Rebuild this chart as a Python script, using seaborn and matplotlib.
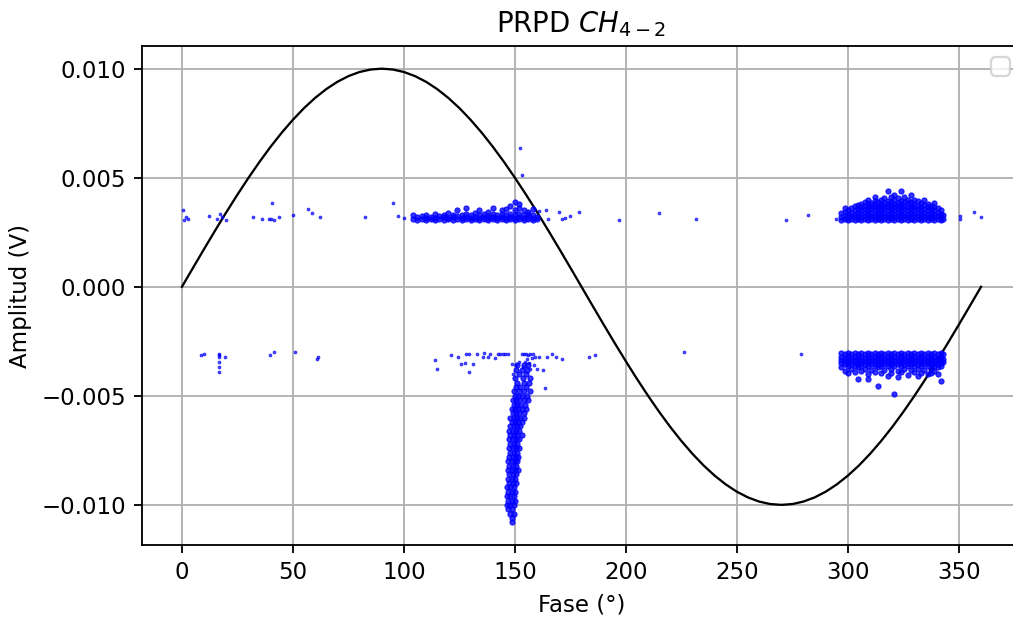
import numpy as np
import pandas as pd
import matplotlib
matplotlib.use("Agg")
import matplotlib.pyplot as plt
import seaborn as sns

DPI = 165

# --- Reference sine (amplitude in mV, read every 5 degrees) ---
SINE_PHASE = list(range(0, 365, 5))
SINE_MV = [
    0.0, 0.872, 1.736, 2.588, 3.420, 4.226, 5.000, 5.736, 6.428, 7.071,
    7.660, 8.192, 8.660, 9.063, 9.397, 9.659, 9.848, 9.962, 10.0, 9.962,
    9.848, 9.659, 9.397, 9.063, 8.660, 8.192, 7.660, 7.071, 6.428, 5.736,
    5.000, 4.226, 3.420, 2.588, 1.736, 0.872, 0.0, -0.872, -1.736, -2.588,
    -3.420, -4.226, -5.000, -5.736, -6.428, -7.071, -7.660, -8.192, -8.660, -9.063,
    -9.397, -9.659, -9.848, -9.962, -10.0, -9.962, -9.848, -9.659, -9.397, -9.063,
    -8.660, -8.192, -7.660, -7.071, -6.428, -5.736, -5.000, -4.226, -3.420, -2.588,
    -1.736, -0.872, 0.0,
]

# --- Isolated pulses (phase deg, amplitude mV) ---
SPARSE_PHASE = [
    0.5, 1, 2, 2.5, 12, 16, 17, 18, 20, 32, 36, 39, 40, 40.5, 41.5, 43.7, 50, 57,
    58.5, 62, 82.5, 95, 97.5, 100, 161, 164, 165, 170, 171, 172.5, 175, 179, 197,
    215, 231.5, 272, 282, 294.6, 350.5, 350.5, 357, 360, 152.3, 153.2,
    8.6, 10, 16.5, 16.5, 16.5, 16.5, 16.5, 16.5, 19.5, 39.5, 41.5, 51, 61, 61.5,
    183.5, 186, 226, 279,
    114, 115, 121, 124.5, 125.5, 127.5, 128, 129.5, 129.5, 131, 133, 135.5, 136,
    138, 139, 141, 142.5, 143.5, 144.5, 145.5, 147, 148.5, 149, 150.5, 152, 153,
    153.5, 154, 154.5, 155, 155.5, 156, 156.5, 157, 157, 157.5, 158, 158.5, 159,
    160, 161, 162.5, 163.5, 164.5, 166.5, 168.5, 171,
]
SPARSE_MV = [
    3.52, 3.05, 3.2, 3.12, 3.24, 3.1, 3.33, 3.2, 3.06, 3.2, 3.1, 3.1, 3.1, 3.84, 3.06, 3.2, 3.29, 3.56,
    3.38, 3.2, 3.2, 3.84, 3.24, 3.15, 3.47, 3.52, 3.1, 3.43, 3.1, 3.15, 3.24, 3.43, 3.06,
    3.38, 3.1, 3.06, 3.29, 3.1, 3.1, 3.25, 3.43, 3.2, 6.37, 5.13,
    -3.15, -3.06, -3.06, -3.15, -3.2, -3.47, -3.66, -3.93, -3.24, -3.15, -3.01, -3.01, -3.29, -3.2,
    -3.2, -3.15, -3.01, -3.06,
    -3.38, -3.75, -3.15, -3.2, -3.56, -3.5, -3.06, -3.1, -3.93, -3.56, -3.1, -3.2, -3.05,
    -3.24, -3.1, -3.28, -3.06, -3.06, -3.1, -3.06, -3.1, -3.56, -4.0, -3.6, -3.45, -3.06,
    -3.7, -3.1, -3.43, -3.06, -3.3, -3.15, -3.5, -3.06, -3.75, -3.25, -3.1, -3.6, -3.2,
    -3.75, -3.2, -3.8, -4.66, -3.2, -3.1, -3.2, -3.33,
]

# --- Positive half-cycle band near 100-160 deg (phase: amplitudes mV) ---
POS_BAND = {
    104: [3.1, 3.3], 106: [3.05, 3.2], 108: [3.1, 3.25], 110: [3.05, 3.15, 3.3],
    112: [3.1, 3.2], 114: [3.05, 3.15, 3.35], 116: [3.1, 3.25], 118: [3.05, 3.2, 3.3],
    120: [3.1, 3.15, 3.4], 122: [3.05, 3.2, 3.3], 124: [3.1, 3.25, 3.5],
    126: [3.05, 3.15, 3.3], 128: [3.1, 3.2, 3.35, 3.6], 130: [3.05, 3.15, 3.3],
    132: [3.1, 3.2, 3.4], 134: [3.05, 3.15, 3.3, 3.5], 136: [3.1, 3.2, 3.35],
    138: [3.05, 3.15, 3.25, 3.45], 140: [3.1, 3.2, 3.35, 3.6], 142: [3.05, 3.15, 3.3],
    144: [3.1, 3.2, 3.35, 3.5], 146: [3.05, 3.15, 3.3, 3.55], 148: [3.1, 3.2, 3.35, 3.7],
    150: [3.05, 3.15, 3.3, 3.5, 3.9], 152: [3.1, 3.2, 3.35, 3.6, 3.8],
    154: [3.05, 3.15, 3.3, 3.5], 156: [3.1, 3.2, 3.35, 3.45], 158: [3.05, 3.15, 3.3, 3.55],
    160: [3.1, 3.2],
}

# --- Positive dense cluster 297-343 deg ---
POS_CLUSTER = {
    297: [3.05, 3.2, 3.4], 298.5: [3.1, 3.25, 3.45, 3.6], 300: [3.05, 3.2, 3.35, 3.5],
    301.5: [3.1, 3.25, 3.4, 3.6], 303: [3.05, 3.2, 3.35, 3.5, 3.7],
    304.5: [3.1, 3.25, 3.4, 3.55, 3.75], 306: [3.05, 3.2, 3.35, 3.5, 3.65, 3.8],
    307.5: [3.1, 3.25, 3.4, 3.55, 3.7, 3.9], 309: [3.05, 3.2, 3.35, 3.5, 3.65, 3.8, 4.0],
    310.5: [3.1, 3.25, 3.4, 3.55, 3.7, 3.85], 312: [3.05, 3.2, 3.35, 3.5, 3.65, 3.8, 3.95, 4.1],
    313.5: [3.1, 3.25, 3.4, 3.55, 3.7, 3.9], 315: [3.05, 3.2, 3.35, 3.5, 3.65, 3.8, 4.0],
    316.5: [3.1, 3.25, 3.4, 3.55, 3.7, 3.85, 4.05],
    318: [3.05, 3.2, 3.35, 3.5, 3.65, 3.8, 3.95, 4.4],
    319.5: [3.1, 3.25, 3.4, 3.55, 3.7, 3.9, 4.1],
    321: [3.05, 3.2, 3.35, 3.5, 3.65, 3.8, 4.0, 4.2],
    322.5: [3.1, 3.25, 3.4, 3.55, 3.7, 3.85, 4.05],
    324: [3.05, 3.2, 3.35, 3.5, 3.65, 3.8, 3.95, 4.4],
    325.5: [3.1, 3.25, 3.4, 3.55, 3.7, 3.9, 4.1],
    327: [3.05, 3.2, 3.35, 3.5, 3.65, 3.85, 4.0],
    328.5: [3.1, 3.25, 3.4, 3.55, 3.7, 3.9, 4.2],
    330: [3.05, 3.2, 3.35, 3.5, 3.65, 3.8, 4.0], 331.5: [3.1, 3.25, 3.4, 3.55, 3.7, 3.95],
    333: [3.05, 3.2, 3.35, 3.5, 3.65, 3.85], 334.5: [3.1, 3.25, 3.4, 3.55, 3.75, 4.0],
    336: [3.05, 3.2, 3.35, 3.5, 3.65, 3.8], 337.5: [3.1, 3.25, 3.4, 3.55, 3.7],
    339: [3.05, 3.2, 3.35, 3.5, 3.65, 3.85], 340.5: [3.1, 3.25, 3.4, 3.6],
    342: [3.05, 3.2, 3.35, 3.5], 343: [3.1, 3.3],
}

# --- Negative dense cluster 297-343 deg ---
NEG_CLUSTER = {
    297: [-3.05, -3.2, -3.35, -3.5, -3.7], 298.5: [-3.1, -3.25, -3.4, -3.55, -3.85],
    300: [-3.05, -3.2, -3.35, -3.5, -3.65, -3.95], 301.5: [-3.1, -3.25, -3.4, -3.55, -3.75],
    303: [-3.05, -3.2, -3.35, -3.5, -3.65, -3.9],
    304.5: [-3.1, -3.25, -3.4, -3.55, -3.7, -4.25],
    306: [-3.05, -3.2, -3.35, -3.5, -3.65, -3.85], 307.5: [-3.1, -3.25, -3.4, -3.55, -3.75],
    309: [-3.05, -3.2, -3.35, -3.5, -3.65, -4.0, -4.25], 310.5: [-3.1, -3.25, -3.4, -3.55, -3.8],
    312: [-3.05, -3.2, -3.35, -3.5, -3.65, -3.9],
    313.5: [-3.1, -3.25, -3.4, -3.55, -3.7, -4.55],
    315: [-3.05, -3.2, -3.35, -3.5, -3.65, -3.95], 316.5: [-3.1, -3.25, -3.4, -3.55, -3.8],
    318: [-3.05, -3.2, -3.35, -3.5, -3.65, -4.1],
    319.5: [-3.1, -3.25, -3.4, -3.55, -3.75, -3.95],
    321: [-3.05, -3.2, -3.35, -3.5, -3.65, -4.9],
    322.5: [-3.1, -3.25, -3.4, -3.55, -3.85, -4.15],
    324: [-3.05, -3.2, -3.35, -3.5, -3.65, -3.9], 325.5: [-3.1, -3.25, -3.4, -3.55, -3.75],
    327: [-3.05, -3.2, -3.35, -3.5, -3.65, -4.05], 328.5: [-3.1, -3.25, -3.4, -3.55, -3.8],
    330: [-3.05, -3.2, -3.35, -3.5, -3.65, -3.9],
    331.5: [-3.1, -3.25, -3.4, -3.55, -3.75, -4.1],
    333: [-3.05, -3.2, -3.35, -3.5, -3.65, -3.95], 334.5: [-3.1, -3.25, -3.4, -3.55, -3.8],
    336: [-3.05, -3.2, -3.35, -3.5, -3.65, -4.0],
    337.5: [-3.1, -3.25, -3.4, -3.55, -3.75, -3.95],
    339: [-3.05, -3.2, -3.35, -3.5, -3.65, -3.85],
    340.5: [-3.1, -3.25, -3.4, -3.55, -3.7, -4.0],
    342: [-3.05, -3.2, -3.35, -3.5, -3.65, -4.3], 343: [-3.1, -3.3, -3.45],
}

# --- Negative streak near 150 deg (amplitude mV: phases) ---
NEG_STREAK = {
    -3.6: [151, 154, 156], -3.8: [150.5, 153, 155.5], -4.0: [152, 155],
    -4.2: [150, 153.5, 157], -4.4: [151, 154, 156.5], -4.6: [150.5, 152.5, 155],
    -4.8: [149.5, 152, 154, 157], -5.0: [150, 151.5, 153, 155.5],
    -5.2: [149, 150.5, 152, 154, 156], -5.4: [149.5, 151, 152.5, 154.5],
    -5.6: [148.5, 150, 151.5, 153, 155], -5.8: [149, 150.5, 152, 154],
    -6.0: [148, 149.5, 151, 152.5, 154], -6.2: [148.5, 150, 151.5, 153],
    -6.4: [148, 149.5, 151, 152.5], -6.6: [147.5, 149, 150.5, 152],
    -6.8: [148, 149.5, 151, 153], -7.0: [147.5, 149, 150.5, 152],
    -7.2: [148, 149.5, 151], -7.4: [147.5, 149, 150.5, 152], -7.6: [148, 149.5, 151],
    -7.8: [147.5, 149, 150.5, 151.5], -8.0: [147, 148.5, 150, 151],
    -8.2: [147.5, 149, 150.5], -8.4: [147, 148.5, 150, 151.5], -8.6: [147.5, 149, 150.5],
    -8.8: [147, 148.5, 150], -9.0: [147.5, 149, 150.5], -9.2: [146.5, 148, 149.5],
    -9.4: [147, 148.5, 150], -9.6: [146.5, 148, 149.5], -9.8: [147, 148.5, 150],
    -10.0: [146.5, 148, 149.5], -10.2: [147, 148.5], -10.4: [148, 149.5],
    -10.6: [148.5], -10.8: [148.5],
}


def columns_to_frame(cols):
    rows = [(ph, a) for ph, amps in cols.items() for a in amps]
    return pd.DataFrame(rows, columns=["fase", "mv"])


def rows_to_frame(rows_by_amp):
    rows = [(ph, a) for a, phases in rows_by_amp.items() for ph in phases]
    return pd.DataFrame(rows, columns=["fase", "mv"])


sparse = pd.DataFrame({"fase": SPARSE_PHASE, "mv": SPARSE_MV})
dense = pd.concat([
    columns_to_frame(POS_BAND),
    columns_to_frame(POS_CLUSTER),
    columns_to_frame(NEG_CLUSTER),
    rows_to_frame(NEG_STREAK),
], ignore_index=True)
sparse["amp"] = sparse["mv"] / 1000
dense["amp"] = dense["mv"] / 1000

fig = plt.figure(figsize=(1013 / DPI, 618 / DPI), dpi=DPI)
ax = fig.add_axes([142 / 1013, 73 / 618, 879 / 1013, 499 / 618])

sns.lineplot(x=SINE_PHASE, y=np.array(SINE_MV) / 1000, ax=ax, color="black",
             linewidth=1.0, zorder=2)
sns.scatterplot(data=sparse, x="fase", y="amp", ax=ax, color="blue", s=1.5,
                edgecolor="blue", linewidth=0.4, alpha=0.7, zorder=3)
sns.scatterplot(data=dense, x="fase", y="amp", ax=ax, color="blue", s=5,
                edgecolor="blue", linewidth=0.5, alpha=0.8, zorder=3)

ax.set_title("PRPD $CH_{4-2}$")
ax.set_xlabel("Fase (°)")
ax.set_ylabel("Amplitud (V)")
ax.set_xticks(range(0, 351, 50))
ax.grid(True)
ax.set_axisbelow(True)
ax.legend(handles=[], labels=[], loc="upper right")

fig.savefig("out.png", dpi=DPI)
